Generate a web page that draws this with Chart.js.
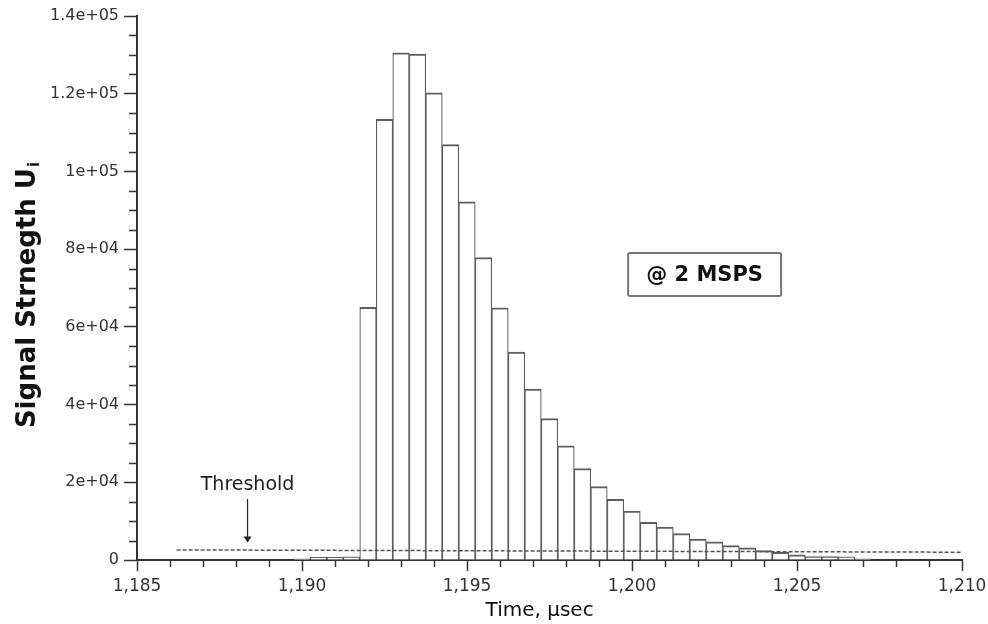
<!DOCTYPE html>
<html>
<head>
<meta charset="utf-8">
<title>Signal strength vs time</title>
<script src="https://cdn.jsdelivr.net/npm/chart.js@4.4.1/dist/chart.umd.min.js"></script>
<style>
  html, body { margin: 0; padding: 0; background: #fff; }
  canvas { display: block; }
</style>
</head>
<body>
<canvas id="chart" width="988" height="624"></canvas>
<script>
// bin centres in usec (0.5 usec bins @ 2 MSPS)
const binCenters = [
  1190.0, 1190.5, 1191.0, 1191.5, 1192.0, 1192.5, 1193.0, 1193.5, 1194.0, 1194.5,
  1195.0, 1195.5, 1196.0, 1196.5, 1197.0, 1197.5, 1198.0, 1198.5, 1199.0, 1199.5,
  1200.0, 1200.5, 1201.0, 1201.5, 1202.0, 1202.5, 1203.0, 1203.5, 1204.0, 1204.5,
  1205.0, 1205.5, 1206.0, 1206.5, 1207.0
];
// signal strength per bin
const signal = [
  300, 700, 700, 800, 65000, 113400, 130500, 130200, 120200, 106900,
  92200, 77800, 64900, 53500, 44000, 36400, 29400, 23500, 18900, 15600,
  12600, 9700, 8500, 6800, 5400, 4700, 3700, 3100, 2400, 2000,
  1300, 900, 900, 800, 300
];
// threshold line end points
const thresholdX = [1186.2, 1210];
const thresholdY = [2600, 2000];

const xTickLabels = ['1,185', '1,190', '1,195', '1,200', '1,205', '1,210'];
const yTickLabels = ['0', '2e+04', '4e+04', '6e+04', '8e+04', '1e+05', '1.2e+05', '1.4e+05'];

const barData = binCenters.map((t, i) => ({x: t, y: signal[i]}));
const thresholdData = thresholdX.map((t, i) => ({x: t, y: thresholdY[i]}));

const FONT = '"DejaVu Sans", Verdana, sans-serif';

// minor ticks, axis titles and the annotations
const extras = {
  id: 'extras',
  afterDraw(chart) {
    const ctx = chart.ctx;
    const xs = chart.scales.x, ys = chart.scales.y;
    const area = chart.chartArea;
    ctx.save();

    // minor ticks
    ctx.strokeStyle = '#333';
    ctx.lineWidth = 1.5;
    ctx.beginPath();
    for (let v = 1186; v < 1210; v++) {
      if (v % 5 === 0) continue;
      const px = Math.round(xs.getPixelForValue(v)) + 0.5;
      ctx.moveTo(px, area.bottom);
      ctx.lineTo(px, area.bottom + 7);
    }
    for (let v = 5000; v < 140000; v += 5000) {
      if (v % 20000 === 0) continue;
      const py = Math.round(ys.getPixelForValue(v)) + 0.5;
      ctx.moveTo(area.left, py);
      ctx.lineTo(area.left - 8, py);
    }
    ctx.stroke();

    // y title with subscript
    ctx.fillStyle = '#111';
    ctx.save();
    ctx.translate(35, (area.top + area.bottom) / 2 + 7);
    ctx.rotate(-Math.PI / 2);
    const main = 'Signal Strnegth U';
    ctx.font = 'bold 26px ' + FONT;
    const wMain = ctx.measureText(main).width;
    ctx.font = 'bold 15px ' + FONT;
    const wSub = ctx.measureText('i').width;
    const x0 = -(wMain + wSub + 1) / 2;
    ctx.textBaseline = 'alphabetic';
    ctx.textAlign = 'left';
    ctx.font = 'bold 26px ' + FONT;
    ctx.fillText(main, x0, 0);
    ctx.font = 'bold 15px ' + FONT;
    ctx.fillText('i', x0 + wMain + 1, 4);
    ctx.restore();

    // x title
    ctx.font = '20px ' + FONT;
    ctx.textAlign = 'center';
    ctx.textBaseline = 'alphabetic';
    ctx.fillText('Time, \u00b5sec', xs.getPixelForValue(1197.2), area.bottom + 56);

    // threshold label and arrow
    const ax = xs.getPixelForValue(1188.35);
    ctx.font = '19px ' + FONT;
    ctx.fillStyle = '#222';
    ctx.fillText('Threshold', ax, ys.getPixelForValue(18000));
    const aTop = ys.getPixelForValue(15700), aTip = ys.getPixelForValue(4500);
    ctx.strokeStyle = '#222';
    ctx.lineWidth = 1.2;
    ctx.beginPath();
    ctx.moveTo(ax, aTop);
    ctx.lineTo(ax, aTip - 5);
    ctx.stroke();
    ctx.beginPath();
    ctx.moveTo(ax - 4, aTip - 6);
    ctx.lineTo(ax + 4, aTip - 6);
    ctx.lineTo(ax, aTip);
    ctx.closePath();
    ctx.fill();

    // rate box
    const bx = xs.getPixelForValue(1202.2), by = ys.getPixelForValue(73500);
    const bw = 153, bh = 43;
    ctx.fillStyle = '#fff';
    ctx.strokeStyle = '#777';
    ctx.lineWidth = 2;
    ctx.beginPath();
    ctx.roundRect(bx - bw / 2, by - bh / 2, bw, bh, 2);
    ctx.fill();
    ctx.stroke();
    ctx.fillStyle = '#111';
    ctx.font = 'bold 21px ' + FONT;
    ctx.textAlign = 'center';
    ctx.textBaseline = 'middle';
    ctx.fillText('@ 2 MSPS', bx, by + 1);

    ctx.restore();
  }
};

new Chart(document.getElementById('chart'), {
  type: 'bar',
  data: {
    datasets: [{
      type: 'line',
      label: 'Threshold',
      data: thresholdData,
      borderColor: '#555',
      borderWidth: 1.5,
      borderDash: [4, 2],
      pointRadius: 0,
      fill: false,
      order: 0
    }, {
      label: 'Signal Strength',
      data: barData,
      backgroundColor: '#fff',
      borderColor: '#5e5e5e',
      borderWidth: {top: 2, left: 1.2, right: 1.2, bottom: 0},
      borderSkipped: false,
      barPercentage: 1,
      categoryPercentage: 1,
      order: 1
    }]
  },
  options: {
    responsive: false,
    animation: false,
    layout: {padding: {top: 16, right: 26, left: 0, bottom: 0}},
    plugins: {legend: {display: false}, tooltip: {enabled: false}},
    scales: {
      x: {
        type: 'linear',
        min: 1185,
        max: 1210,
        offset: false,
        afterFit: (scale) => { scale.height = 64; scale.paddingRight = 0; scale.paddingLeft = 0; },
        grid: {offset: false, drawOnChartArea: false, drawTicks: true, tickLength: 11, tickColor: '#333', tickWidth: 1.5},
        border: {display: true, color: '#333', width: 2},
        ticks: {
          stepSize: 5,
          padding: 5,
          color: '#333',
          font: {family: FONT, size: 17},
          maxRotation: 0,
          callback: (value) => xTickLabels[Math.round((value - 1185) / 5)]
        }
      },
      y: {
        min: 0,
        max: 140000,
        afterFit: (scale) => { scale.width = 137; },
        grid: {drawOnChartArea: false, drawTicks: true, tickLength: 13, tickColor: '#333', tickWidth: 1.5},
        border: {display: true, color: '#333', width: 2},
        ticks: {
          stepSize: 20000,
          padding: 5,
          color: '#333',
          font: {family: FONT, size: 16},
          callback: (value) => yTickLabels[Math.round(value / 20000)]
        }
      }
    }
  },
  plugins: [extras]
});
</script>
</body>
</html>
